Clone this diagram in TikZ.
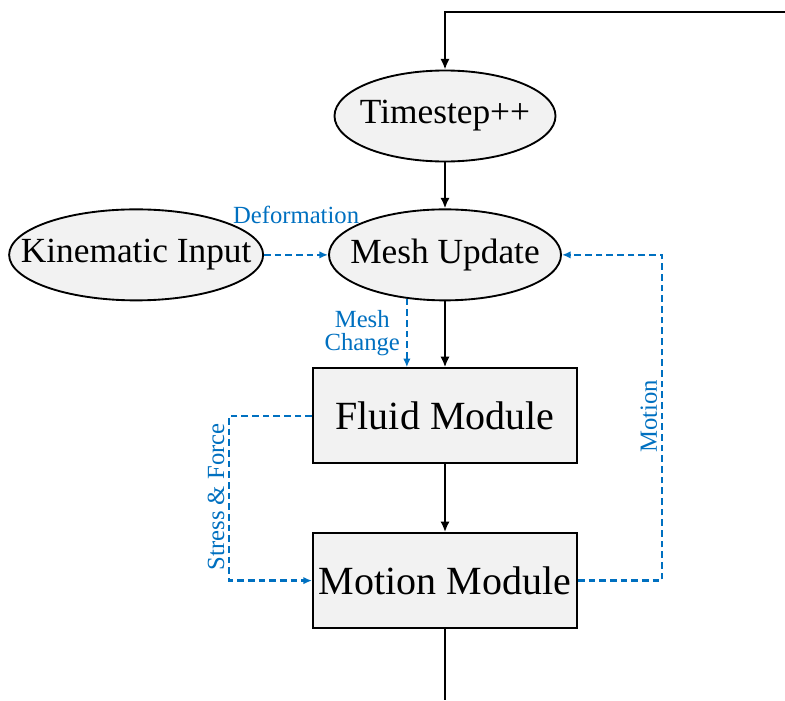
\documentclass[tikz,border=0pt]{standalone}
\usepackage{fontspec}
\setmainfont{Liberation Serif}
\usetikzlibrary{shapes.geometric,arrows.meta,positioning}
\definecolor{linkblue}{HTML}{0070C0}
\definecolor{boxgray}{HTML}{F2F2F2}
\newcommand{\ctext}[1]{\makebox[0pt]{#1}}

\begin{document}
\begin{tikzpicture}[x=0.75pt,y=-0.75pt,
		phase/.style={ellipse,draw,fill=boxgray,line width=1.4pt,inner sep=0pt,
			minimum height=68.25pt,font=\fontsize{26.5}{30}\selectfont},
		module/.style={rectangle,draw,fill=boxgray,line width=1.4pt,
			minimum width=198pt,minimum height=71.25pt,font=\fontsize{30}{36}\selectfont},
		flow/.style={line width=2.2pt,-{Latex[length=8pt,width=7pt]}},
		link/.style={linkblue,line width=1.7pt,dash pattern=on 5pt off 3pt,
			-{Latex[length=6.5pt,width=5.5pt]}},
		linklabel/.style={text=linkblue,font=\fontsize{18.5}{18}\selectfont}]
		\useasboundingbox (0,0) rectangle (785,700);

		\node[phase,minimum width=165.75pt] (timestep) at (445,116) {\ctext{Timestep++}};
		\node[phase,minimum width=174pt,below=34.5pt of timestep] (mesh) {\ctext{Mesh Update}};
		\node[phase,minimum width=190.5pt,left=48pt of mesh] (kinematic) {\ctext{Kinematic Input}};
		\node[module,below=49.5pt of mesh] (fluid) {Fluid Module};
		\node[module,below=51pt of fluid] (motion) {Motion Module};

		\coordinate (topright) at (785,12);
		\coordinate (bottom) at (445,700);

		% main loop
		\draw[flow] (topright) -| (timestep.north);
		\draw[flow] (timestep) -- (mesh);
		\draw[flow] (mesh) -- (fluid);
		\draw[flow] (fluid) -- (motion);
		\draw[line width=2.2pt] (motion.south) -- (bottom);

		% coupling data
		\draw[link] (kinematic) -- (mesh)
		node[linklabel,midway,above=19pt] (deformation) {Deformation};
		\draw[link] (mesh.229) -- (mesh.229 |- fluid.north)
		node[linklabel,midway,left=1pt,align=center,font=\fontsize{18.5}{17}\selectfont] (meshchange) {Mesh\\Change};
		\draw[link] (fluid.west) -- ++(-83,0) coordinate (sfcorner) |- (motion.west);
		\path (sfcorner) -- (sfcorner |- motion.west)
		node[linklabel,midway,rotate=90,above=1pt] (stressforce) {Stress \& Force};
		\draw[link] (motion.east) -- ++(84,0) coordinate (mocorner) |- (mesh.east);
		\path (mocorner) -- (mocorner |- mesh.east)
		node[linklabel,midway,rotate=90,above=1pt] (motionlabel) {Motion};
	\end{tikzpicture}
\end{document}
